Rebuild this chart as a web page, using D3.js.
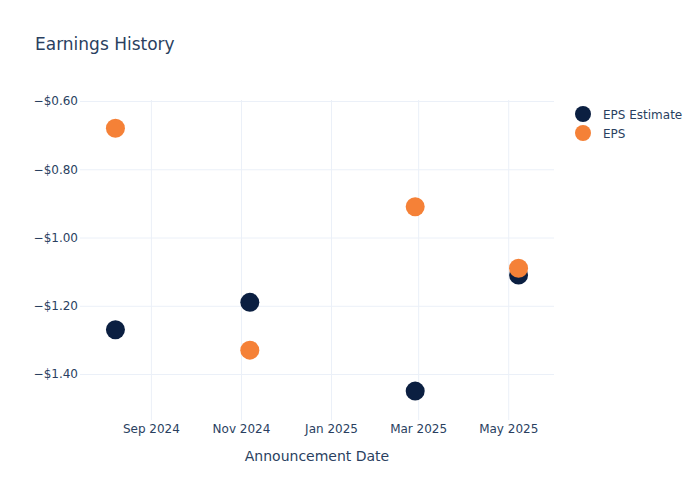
<!DOCTYPE html>
<html><head><meta charset="utf-8">
<script src="https://cdn.jsdelivr.net/npm/d3@7"></script>
<style>body{margin:0;background:#fff}svg text{font-family:"DejaVu Sans",Verdana,sans-serif}</style>
</head><body><svg id="c" width="700" height="500"></svg>
<script>
const dates = ["2024-08-08","2024-11-07","2025-02-27","2025-05-08"];
const epsEstimate = [-1.27,-1.19,-1.45,-1.11];
const eps = [-0.68,-1.33,-0.91,-1.09];
const seriesNames = ["EPS Estimate","EPS"];
const seriesColors = ["#0b1f41","#f58137"];
const yTicks = [-0.6,-0.8,-1.0,-1.2,-1.4];
const xTicks = ["2024-09-01","2024-11-01","2025-01-01","2025-03-01","2025-05-01"];

const parse = d3.utcParse("%Y-%m-%d");
const svg = d3.select("#c");
const m = {l:80, r:146, t:100, b:80};
const W = 700, H = 500;
const x = d3.scaleUtc().domain([parse("2024-07-15"), parse("2025-06-01")]).range([m.l, W-m.r]);
const y = d3.scaleLinear().domain([-1.5347,-0.597]).range([H-m.b, m.t]);
const txt = "#2a3f5f", grid = "#ebf0f8";
const FF = "DejaVu Sans, Verdana, sans-serif";

// grid
const xa = d3.axisBottom(x).tickValues(xTicks.map(parse)).tickSize(-(H-m.t-m.b)).tickFormat(d3.utcFormat("%b %Y"));
const gx = svg.append("g").attr("transform",`translate(0,${H-m.b})`).call(xa).attr("font-family",FF);
gx.select(".domain").remove();
gx.selectAll("line").attr("stroke",grid);
gx.selectAll("text").attr("fill",txt).attr("font-size",12).attr("dy","0.71em").attr("y",4);

const fmt = v => (v<0?"\u2212":"")+"$"+Math.abs(v).toFixed(2);
const ya = d3.axisLeft(y).tickValues(yTicks).tickSize(-(W-m.l-m.r)).tickFormat(fmt);
const gy = svg.append("g").attr("transform",`translate(${m.l},0)`).call(ya).attr("font-family",FF);
gy.select(".domain").remove();
gy.selectAll("line").attr("stroke",grid);
gy.selectAll("text").attr("fill",txt).attr("font-size",12).attr("x",-2);

// points
const series = [epsEstimate, eps];
series.forEach((vals,i)=>{
  svg.append("g").selectAll("circle").data(vals).join("circle")
    .attr("cx",(d,j)=>x(parse(dates[j]))).attr("cy",d=>y(d)).attr("r",9.5)
    .attr("fill",seriesColors[i]);
});

// title
svg.append("text").attr("x",35).attr("y",50).attr("fill",txt).attr("font-size",17).text("Earnings History");
svg.append("text").attr("x",(m.l+W-m.r)/2).attr("y",461).attr("text-anchor","middle").attr("fill",txt).attr("font-size",14).text("Announcement Date");

// legend
seriesNames.forEach((n,i)=>{
  const g = svg.append("g").attr("transform",`translate(583,${114+i*19})`);
  g.append("circle").attr("r",8).attr("fill",seriesColors[i]);
  g.append("text").attr("x",20).attr("y",4.5).attr("fill",txt).attr("font-size",12).text(n);
});
</script></body></html>
